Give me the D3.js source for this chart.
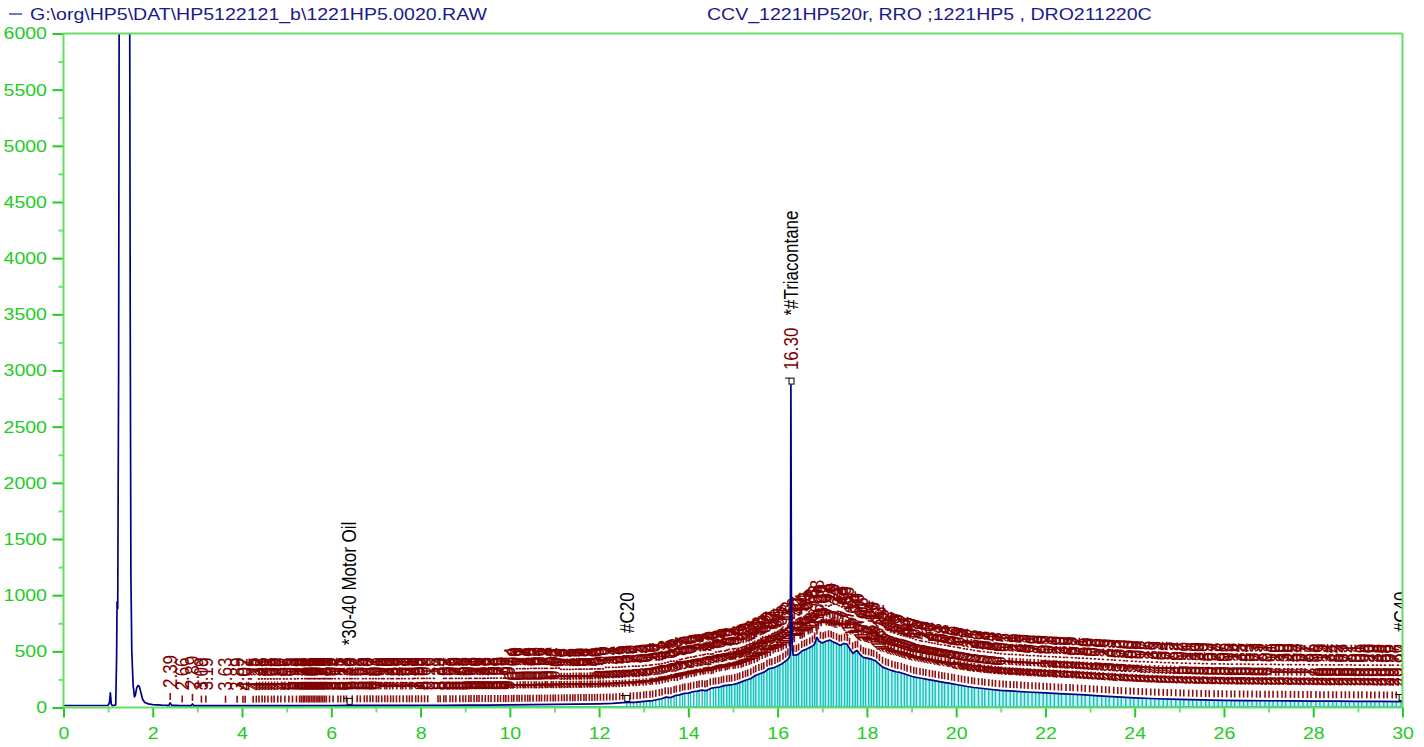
<!DOCTYPE html>
<html><head><meta charset="utf-8">
<script src="https://cdn.jsdelivr.net/npm/d3@7"></script>
<style>html,body{margin:0;padding:0;background:#fff;} svg{display:block;}</style>
</head><body>
<svg id="chart" width="1424" height="747"></svg>
<script>
const titleLeft = "G:\\org\\HP5\\DAT\\HP5122121_b\\1221HP5.0020.RAW";
const titleRight = "CCV_1221HP520r, RRO ;1221HP5 , DRO211220C";
const xTicks = [0,2,4,6,8,10,12,14,16,18,20,22,24,26,28,30];
const xMinorTicks = [1,3,5,7,9,11,13,15,17,19,21,23,25,27,29];
const yTicks = [0,500,1000,1500,2000,2500,3000,3500,4000,4500,5000,5500,6000];
const yMinorTicks = [250,750,1250,1750,2250,2750,3250,3750,4250,4750,5250,5750];

// chromatogram trace [time (min), response]
const signalPoints = [
[0,18],[0.5,18],[1.0,19],[1.03,45],[1.05,130],[1.07,30],[1.10,16],[1.17,22],[1.19,450],[1.20,940],[1.215,880],
[1.235,3000],[1.25,7000],[1.48,7000],[1.495,3500],[1.51,1200],[1.53,500],[1.56,200],[1.59,95],[1.61,110],[1.64,175],
[1.67,196],[1.70,185],[1.73,140],[1.77,75],[1.82,45],[1.90,32],[2.00,26],[2.20,21],[2.36,20],[2.39,40],[2.42,21],
[2.60,18],[2.86,17],[2.89,32],[2.92,17],[3.20,17],[3.60,16],[4.00,16],[4.50,17],[5.00,17],[5.50,18],[6.00,18],
[6.40,19],[7.00,19],[7.50,19],[8.00,20],[8.50,20],[9.00,21],[9.50,22],[10.00,23],[10.50,25],[11.00,27],[11.50,30],
[12.00,33],[12.30,36],[12.62,45],[12.80,46],[13.00,55],[13.20,62],[13.40,78],[13.50,92],[13.60,88],[13.70,105],
[13.80,112],[13.90,125],[14.00,128],[14.10,140],[14.20,146],[14.30,155],[14.40,150],[14.50,170],[14.60,178],
[14.70,182],[14.80,195],[14.90,200],[15.00,205],[15.10,215],[15.20,230],[15.30,245],[15.40,258],[15.50,285],
[15.60,300],[15.70,315],[15.80,345],[15.90,352],[16.00,370],[16.10,390],[16.20,420],[16.25,440],[16.28,470],
[16.29,1300],[16.297,2870],[16.303,2000],[16.31,900],[16.325,520],[16.35,465],[16.45,470],[16.55,505],[16.65,520],
[16.75,540],[16.82,560],[16.88,624],[16.93,590],[17.00,575],[17.08,590],[17.17,600],[17.25,582],[17.33,570],
[17.40,553],[17.48,570],[17.55,565],[17.62,520],[17.69,481],[17.74,500],[17.78,508],[17.85,470],[17.92,446],
[18.00,440],[18.10,430],[18.18,419],[18.25,395],[18.36,357],[18.45,345],[18.55,330],[18.65,318],[18.74,312],
[18.85,298],[18.95,285],[19.05,272],[19.12,267],[19.25,258],[19.35,250],[19.48,241],[19.60,232],[19.75,222],
[19.87,214],[20.00,205],[20.25,187],[20.40,178],[20.60,169],[20.80,160],[20.99,152],[21.30,145],[21.60,138],
[22.00,130],[22.40,122],[22.80,114],[23.20,104],[23.60,94],[24.00,86],[24.50,78],[25.00,72],[25.50,67],[26.00,64],
[26.50,62],[27.00,60],[27.50,59],[28.00,57],[28.50,56],[29.00,55],[29.50,54],[30.00,53]
];

const peakTimes = [
2.39,2.66,2.89,3.09,3.19,3.63,3.89,4.02,4.07,4.25,4.32,4.38,4.45,4.51,4.58,4.66,4.72,4.80,4.87,4.96,5.05,5.13,5.22,
5.29,5.33,5.37,5.40,5.44,5.48,5.51,5.55,5.59,5.62,5.66,5.70,5.73,5.77,5.81,5.85,5.89,5.96,6.04,6.15,6.21,6.28,6.34,
6.40,6.47,6.58,6.65,6.74,6.80,6.87,6.93,7.01,7.06,7.13,7.20,7.26,7.33,7.39,7.46,7.53,7.61,7.69,7.75,7.81,7.89,7.95,
8.02,8.09,8.16,8.39,8.44,8.52,8.57,8.66,8.72,8.79,8.88,8.95,9.01,9.08,9.13,9.20,9.26,9.31,9.38,9.45,9.52,9.58,9.66,
9.73,9.79,9.86,9.91,9.97,10.04,10.09,10.16,10.21,10.27,10.34,10.40,10.45,10.52,10.60,10.66,10.71,10.78,10.84,10.91,
10.97,11.02,11.09,11.16,11.22,11.28,11.35,11.41,11.46,11.53,11.59,11.66,11.71,11.78,11.84,11.90,11.96,12.03,12.10,
12.17,12.24,12.31,12.38,12.46,12.53,12.62,12.70,12.77,12.85,12.92,13.00,13.06,13.14,13.20,13.27,13.35,13.41,13.48,
13.55,13.61,13.68,13.73,13.81,13.87,13.92,14.00,14.05,14.12,14.19,14.24,14.31,14.37,14.42,14.49,14.56,14.61,14.68,
14.74,14.79,14.86,14.92,14.97,15.04,15.10,15.15,15.22,15.28,15.33,15.40,15.46,15.51,15.58,15.64,15.69,15.76,15.82,
15.87,15.94,16.00,16.05,16.12,16.18,16.23,16.30,16.36,16.42,16.47,16.54,16.60,16.65,16.72,16.78,16.83,16.88,16.96,
17.02,17.07,17.14,17.20,17.25,17.32,17.38,17.43,17.50,17.56,17.61,17.68,17.74,17.79,17.86,17.92,17.97,18.04,18.10,
18.15,18.22,18.28,18.35,18.42,18.48,18.56,18.63,18.69,18.77,18.84,18.90,18.98,19.05,19.11,19.19,19.26,19.32,19.40,
19.47,19.53,19.61,19.68,19.74,19.82,19.90,19.96,20.05,20.12,20.19,20.27,20.35,20.41,20.50,20.58,20.64,20.73,20.81,
20.88,20.97,21.05,21.12,21.21,21.29,21.36,21.45,21.53,21.61,21.70,21.78,21.86,21.95,22.03,22.11,22.20,22.29,22.36,
22.46,22.55,22.62,22.72,22.81,22.89,22.99,23.08,23.16,23.26,23.35,23.43,23.53,23.62,23.70,23.80,23.90,23.98,24.08,
24.17,24.26,24.36,24.45,24.54,24.64,24.73,24.82,24.92,25.02,25.10,25.21,25.30,25.39,25.49,25.59,25.67,25.78,25.87,
25.96,26.06,26.16,26.24,26.35,26.44,26.53,26.63,26.73,26.81,26.92,27.01,27.10,27.20,27.30,27.38,27.49,27.58,27.67,
27.77,27.87,27.95,28.06,28.15,28.24,28.34,28.44,28.52,28.63,28.72,28.81,28.91,29.01,29.09,29.20,29.29,29.38,29.48,
29.58,29.66,29.77,29.86,29.97
];

const namedPeakTimes = [6.40, 12.62, 16.30, 29.97];
const namedPeakNames = ["*30-40 Motor Oil", "#C20", "*#Triacontane", "#C40"];

// ---------- drawing ----------
const FONT = "'Liberation Sans', Arial, Helvetica, sans-serif";
const FS = 17, SX = 1.15;
const svg = d3.select("#chart");
const x = d3.scaleLinear().domain([0, 30]).range([63.5, 1402.5]);
const y = d3.scaleLinear().domain([0, 6000]).range([707.5, 33.5]);

const defs = svg.append("defs");
defs.append("clipPath").attr("id", "plotClip").append("rect")
  .attr("x", 63.5).attr("y", 33.5).attr("width", 1339).attr("height", 674);
defs.append("clipPath").attr("id", "labelClip").append("rect")
  .attr("x", 0).attr("y", 0).attr("width", 1403).attr("height", 747);

const sTimes = signalPoints.map(d => d[0]);
function sig(t) {
  const i = d3.bisectLeft(sTimes, t);
  if (i <= 0) return signalPoints[0][1];
  if (i >= signalPoints.length) return signalPoints[signalPoints.length - 1][1];
  const [t0, v0] = signalPoints[i - 1], [t1, v1] = signalPoints[i];
  return v0 + (v1 - v0) * (t - t0) / (t1 - t0);
}
function apex(t) {
  let m = Math.max(sig(t - 0.008), sig(t), sig(t + 0.008));
  signalPoints.forEach(p => { if (Math.abs(p[0] - t) <= 0.008) m = Math.max(m, p[1]); });
  return m;
}
function t2v(t) { const v = sig(t); return v > 700 ? 520 : v; }

// titles
svg.append("line").attr("x1", 9).attr("x2", 22).attr("y1", 14).attr("y2", 14)
  .attr("stroke", "#1a1a8a").attr("stroke-width", 1.2);
function hText(g, tx, ty, str, fill, anchor) {
  return g.append("text").attr("transform", `translate(${tx},${ty}) scale(${SX},1)`)
    .attr("font-family", FONT).attr("font-size", FS).attr("fill", fill)
    .attr("text-anchor", anchor || "start").text(str);
}
hText(svg, 30, 20, titleLeft, "#1a1a8a");
hText(svg, 707, 20, titleRight, "#1a1a8a");

// cyan integrated area
const areaPts = signalPoints.filter(p => p[0] >= 14.6);
svg.append("path").datum(areaPts)
  .attr("d", d3.area().x(d => x(d[0])).y0(y(0) - 1).y1(d => y(Math.min(d[1], 650))))
  .attr("fill", "#9fe4e4").attr("opacity", 0.55).attr("clip-path", "url(#plotClip)");
svg.append("g").selectAll("line").data(peakTimes.filter(t => t >= 12.6)).join("line")
  .attr("x1", d => x(d)).attr("x2", d => x(d))
  .attr("y1", y(0) - 1).attr("y2", d => y(t2v(d)))
  .attr("stroke", "#12c2c2").attr("stroke-width", 1.4);
// baseline
svg.append("line").attr("x1", x(2.3)).attr("x2", x(30)).attr("y1", y(6)).attr("y2", y(6))
  .attr("stroke", "#20b8cc").attr("stroke-width", 1.5);

// peak ticks and labels
const named = new Set(namedPeakTimes);
const lab = svg.append("g").attr("clip-path", "url(#labelClip)");
const labelNodes = {};
peakTimes.forEach(t => {
  const px = x(t), ay = y(apex(t));
  if (!named.has(t)) {
    lab.append("line").attr("x1", px).attr("x2", px).attr("y1", ay - 3).attr("y2", ay - 10)
      .attr("stroke", "#8b1010").attr("stroke-width", 1.6);
  }
  const tx = lab.append("text")
    .attr("transform", `translate(${px},${ay - 15}) scale(${SX},1) rotate(-90)`)
    .attr("dy", "0.35em").attr("font-family", FONT).attr("font-size", FS)
    .attr("fill", "#800000")
    .text(t.toFixed(2));
  labelNodes[t] = tx;
});

// trace
svg.append("path").datum(signalPoints)
  .attr("d", d3.line().x(d => x(d[0])).y(d => y(d[1])))
  .attr("fill", "none").attr("stroke", "#000080").attr("stroke-width", 1.7)
  .attr("stroke-linejoin", "round").attr("clip-path", "url(#plotClip)");

// named peaks
namedPeakTimes.forEach((t, i) => {
  const px = x(t), ay = y(apex(t));
  const len = labelNodes[t] ? labelNodes[t].node().getComputedTextLength() : 0;
  lab.append("rect").attr("x", px - 2).attr("y", ay - 7).attr("width", 5).attr("height", 6)
    .attr("fill", "#fff").attr("stroke", "#000").attr("stroke-width", 1);
  lab.append("line").attr("x1", px - 6).attr("x2", px - 2).attr("y1", ay - 7).attr("y2", ay - 7)
    .attr("stroke", "#000").attr("stroke-width", 1);
  lab.append("text")
    .attr("transform", `translate(${px},${ay - 15 - len - 12}) scale(${SX},1) rotate(-90)`)
    .attr("dy", "0.35em").attr("font-family", FONT).attr("font-size", FS)
    .attr("fill", "#000").text(namedPeakNames[i]);
});

// frame
const FRAME = "#66dd66", TICK = "#22cc22";
const fr = svg.append("g").attr("stroke", FRAME).attr("stroke-width", 2);
fr.append("line").attr("x1", 63.5).attr("x2", 1402.5).attr("y1", 33.5).attr("y2", 33.5);
fr.append("line").attr("x1", 1402.5).attr("x2", 1402.5).attr("y1", 33.5).attr("y2", 707.5);

// axes
function styleAxis(g, color) {
  g.select(".domain").remove();
  g.selectAll(".tick line").attr("stroke", color).attr("stroke-width", 2);
  g.selectAll(".tick text").attr("fill", TICK).attr("font-family", FONT).attr("font-size", FS);
}
const yMinor = svg.append("g").attr("transform", "translate(63.5,0)")
  .call(d3.axisLeft(y).tickValues(yMinorTicks).tickSize(5).tickFormat(""));
styleAxis(yMinor, "#77dd77");
const yAx = svg.append("g").attr("transform", "translate(63.5,0)")
  .call(d3.axisLeft(y).tickValues(yTicks).tickSize(11).tickPadding(5).tickFormat(d3.format("d")));
styleAxis(yAx, TICK);
yAx.selectAll(".tick text").attr("x", null).attr("transform", `translate(-16.5,0) scale(${SX},1)`);

const xMinor = svg.append("g").attr("transform", "translate(0,707.5)")
  .call(d3.axisBottom(x).tickValues(xMinorTicks).tickSize(5).tickFormat(""));
styleAxis(xMinor, "#77dd77");
const xAx = svg.append("g").attr("transform", "translate(0,707.5)")
  .call(d3.axisBottom(x).tickValues(xTicks).tickSize(10).tickPadding(9).tickFormat(d3.format("d")));
styleAxis(xAx, TICK);
xAx.selectAll(".tick text").attr("transform", `scale(${SX},1)`);

const ax = svg.append("g").attr("stroke", FRAME).attr("stroke-width", 2);
ax.append("line").attr("x1", 63.5).attr("x2", 63.5).attr("y1", 33.5).attr("y2", 707.5);
ax.append("line").attr("x1", 63.5).attr("x2", 1402.5).attr("y1", 707.5).attr("y2", 707.5);
</script>
</body></html>
